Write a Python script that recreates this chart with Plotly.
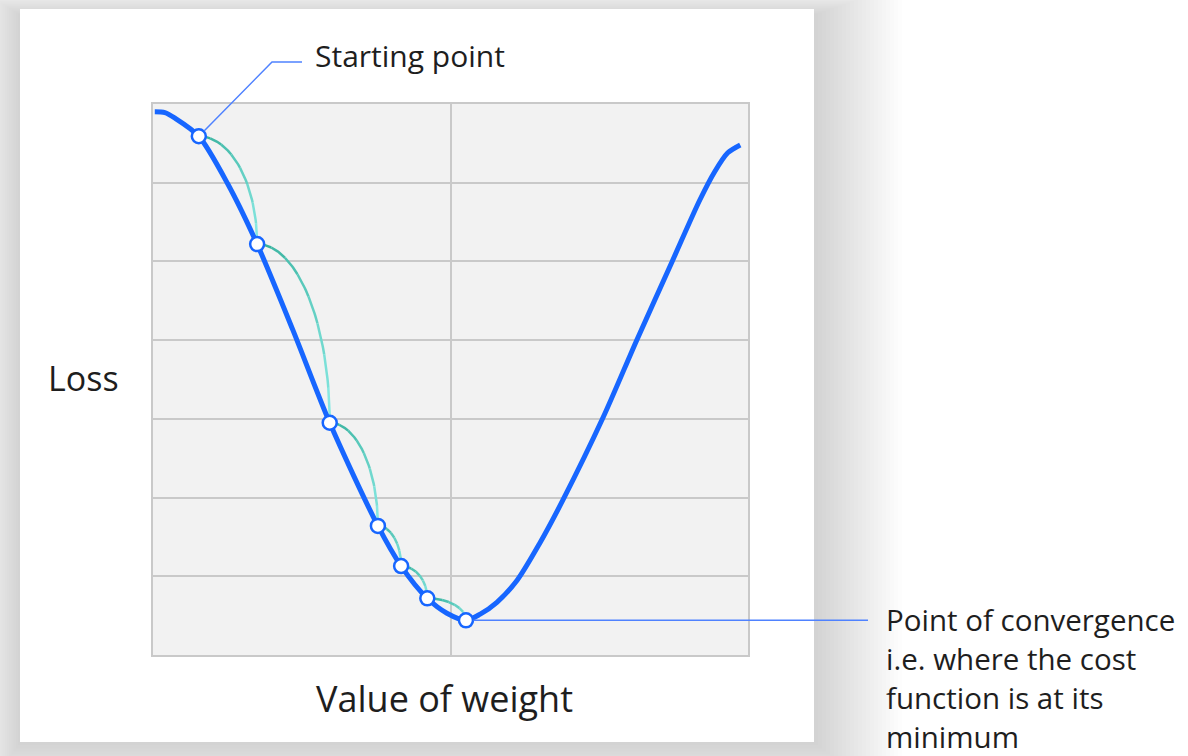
import plotly.graph_objects as go
import numpy as np

# ---------------- data ----------------
curve_weight = [0.03, 0.20, 0.37, 0.77, 1.26, 1.75, 2.35, 2.97, 3.78, 4.17, 4.61, 4.94, 5.26,
                5.50, 5.78, 6.12, 6.50, 6.89, 7.56, 8.13, 8.72, 9.19, 9.44, 9.66, 9.87]
curve_loss = [6.90, 6.89, 6.82, 6.59, 5.98, 5.22, 4.13, 2.95, 1.64, 1.13, 0.72, 0.53, 0.44,
              0.52, 0.67, 0.95, 1.42, 1.97, 3.01, 4.00, 4.99, 5.78, 6.14, 6.38, 6.48]

step_weight = [0.77, 1.75, 2.97, 3.78, 4.17, 4.61, 5.26]
step_loss = [6.59, 5.22, 2.95, 1.64, 1.13, 0.72, 0.44]

x_label = "Value of weight"
y_label = "Loss"
start_label = "Starting point"
conv_label = ["Point of convergence", "i.e. where the cost", "function is at its", "minimum"]

# ---------------- layout geometry ----------------
W, H = 1188, 756
L, R, T, B = 153, 748, 104, 655
XR = [0, 10]
YR = [0, 7]


def px(x, y):
    return (x - L) / (R - L), (B - y) / (B - T)


def d2p(xv, yv):
    return (xv - XR[0]) / (XR[1] - XR[0]), (yv - YR[0]) / (YR[1] - YR[0])


BLUE = "#1766ff"
LEADER = "#4f82ff"
TEXT = "#1e1e1e"
FONT = "Open Sans"
MR = 7.5  # marker radius in px

fig = go.Figure()

# teal arcs between successive steps (quarter ellipses), gradient coloured
nseg = 8
c0 = np.array([55, 178, 158])
c1 = np.array([135, 232, 226])
for k in range(nseg):
    xs, ys = [], []
    for i in range(len(step_weight) - 1):
        xa, ya = step_weight[i], step_loss[i]
        xb, yb = step_weight[i + 1], step_loss[i + 1]
        t = np.linspace(np.pi / 2 * (1 - k / nseg), np.pi / 2 * (1 - (k + 1) / nseg), 12)
        xs += list(xa + (xb - xa) * np.cos(t)) + [None]
        ys += list(yb + (ya - yb) * np.sin(t)) + [None]
    c = c0 + (c1 - c0) * (k / (nseg - 1))
    fig.add_trace(go.Scatter(x=xs, y=ys, mode="lines", hoverinfo="skip",
                             line=dict(color="rgb(%d,%d,%d)" % tuple(c), width=2.5)))

# loss curve
fig.add_trace(go.Scatter(x=curve_weight, y=curve_loss, mode="lines",
                         line=dict(color=BLUE, width=5, shape="spline", smoothing=0.8),
                         hoverinfo="skip"))

# step markers
fig.add_trace(go.Scatter(x=step_weight, y=step_loss, mode="markers",
                         marker=dict(size=14, color="white", line=dict(color=BLUE, width=2.5)),
                         hoverinfo="skip", cliponaxis=False))

shapes = []
# card shadow (soft, layered)
cx0, cy0, cx1, cy1 = 20, 9, 814, 742
n_sh = 22
for k in range(n_sh):
    g = 4 * (k + 1)
    x0, y0 = px(cx0 - 0.55 * g, cy0 - 0.35 * g + 6)
    x1, y1 = px(cx1 + g, cy1 + 0.8 * g)
    shapes.append(dict(type="rect", xref="paper", yref="paper", x0=x0, y0=y1, x1=x1, y1=y0,
                       fillcolor="rgba(0,0,0,0.006)", line=dict(width=0), layer="below"))
# card
x0, y0 = px(cx0, cy0)
x1, y1 = px(cx1, cy1)
shapes.append(dict(type="rect", xref="paper", yref="paper", x0=x0, y0=y1, x1=x1, y1=y0,
                   fillcolor="white", line=dict(width=0), layer="below"))
# plot area background
shapes.append(dict(type="rect", xref="x", yref="y", x0=XR[0], y0=YR[0], x1=XR[1], y1=YR[1],
                   fillcolor="#f2f2f2", line=dict(width=0), layer="below"))

# starting point leader (begins at the marker's edge)
p0x, p0y = d2p(step_weight[0], step_loss[0])
sp_px = np.array([L + p0x * (R - L), B - p0y * (B - T)])
knee = np.array([272.0, 62.0])
u = (knee - sp_px) / np.linalg.norm(knee - sp_px)
e = sp_px + u * MR
ex0, ey0 = px(e[0], e[1])
kx, ky = px(knee[0], knee[1])
hx, hy = px(302, 62)
shapes.append(dict(type="path", xref="paper", yref="paper",
                   path="M %f %f L %f %f L %f %f" % (ex0, ey0, kx, ky, hx, hy),
                   line=dict(color=LEADER, width=1.5), layer="above"))
# convergence leader
sx, sy = d2p(step_weight[-1], step_loss[-1])
sx += MR / (R - L)
ex, _ = px(868, 0)
shapes.append(dict(type="line", xref="paper", yref="paper", x0=sx, y0=sy, x1=ex, y1=sy,
                   line=dict(color=LEADER, width=1.5), layer="above"))

annotations = []
ax, ay = px(313, 56)
annotations.append(dict(xref="paper", yref="paper", x=ax, y=ay, text=start_label,
                        showarrow=False, xanchor="left", yanchor="middle",
                        font=dict(family=FONT, size=30, color=TEXT)))
ax, ay = px(83, 378)
annotations.append(dict(xref="paper", yref="paper", x=ax, y=ay, text=y_label,
                        showarrow=False, xanchor="center", yanchor="middle",
                        font=dict(family=FONT, size=34, color=TEXT)))
ax, ay = px(444, 698)
annotations.append(dict(xref="paper", yref="paper", x=ax, y=ay, text=x_label,
                        showarrow=False, xanchor="center", yanchor="middle",
                        font=dict(family=FONT, size=36, color=TEXT)))
for i, line in enumerate(conv_label):
    ax, ay = px(884, 619 + 39 * i)
    annotations.append(dict(xref="paper", yref="paper", x=ax, y=ay, text=line,
                            showarrow=False, xanchor="left", yanchor="middle",
                            font=dict(family=FONT, size=29.5, color=TEXT)))

fig.update_layout(
    width=W, height=H,
    margin=dict(l=L, r=W - R, t=T, b=H - B, pad=0),
    paper_bgcolor="white",
    plot_bgcolor="rgba(0,0,0,0)",
    showlegend=False,
    shapes=shapes,
    annotations=annotations,
    xaxis=dict(range=XR, dtick=5, tick0=0, showticklabels=False, ticks="",
               showgrid=True, gridcolor="#c9c9c9", gridwidth=2, zeroline=False,
               showline=True, linecolor="#c9c9c9", linewidth=2, mirror=True, fixedrange=True),
    yaxis=dict(range=YR, dtick=1, tick0=0, showticklabels=False, ticks="",
               showgrid=True, gridcolor="#c9c9c9", gridwidth=2, zeroline=False,
               showline=True, linecolor="#c9c9c9", linewidth=2, mirror=True, fixedrange=True),
)

fig.write_html("out.html", config={"displayModeBar": False},
               post_script="document.body.style.margin='0px';document.body.style.overflow='hidden';")
